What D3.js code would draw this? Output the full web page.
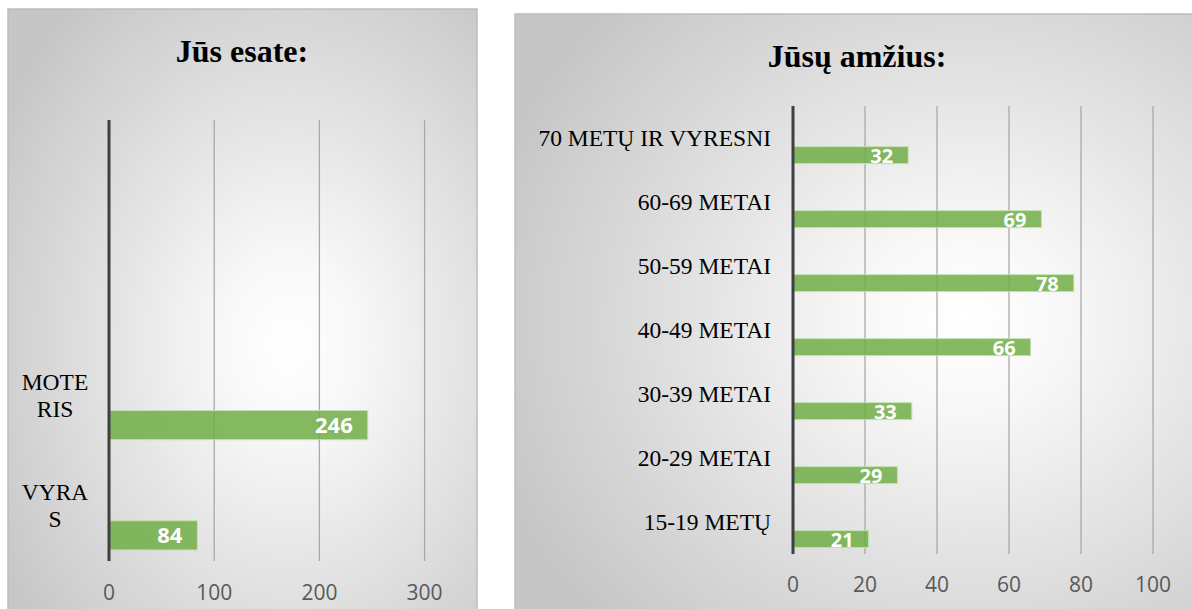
<!DOCTYPE html>
<html>
<head>
<meta charset="utf-8">
<script src="https://cdn.jsdelivr.net/npm/d3@7"></script>
<style>
body { margin:0; background:#ffffff; }
svg { display:block; }
</style>
</head>
<body>
<svg id="chart"></svg>
<script>
// data
var genderCategories = ["MOTERIS", "VYRAS"];
var genderValues = [246, 84];
var genderTicks = [0, 100, 200, 300];

var ageCategories = ["70 METŲ IR VYRESNI", "60-69 METAI", "50-59 METAI", "40-49 METAI", "30-39 METAI", "20-29 METAI", "15-19 METŲ"];
var ageValues = [32, 69, 78, 66, 33, 29, 21];
var ageTicks = [0, 20, 40, 60, 80, 100];

var screen = {width:1192, height:609};
var green = "#70ad47";
var serif = "'Liberation Serif', 'Times New Roman', serif";
var sans = "'Open Sans', sans-serif";

var svg = d3.select("#chart")
    .attr("width", screen.width)
    .attr("height", screen.height);

var defs = svg.append("defs");

var makeGradient = function(id, cx, cy)
{
    var grad = defs.append("radialGradient")
        .attr("id", id)
        .attr("cx", cx)
        .attr("cy", cy)
        .attr("r", "0.72");
    grad.append("stop").attr("offset", "0").attr("stop-color", "#ffffff");
    grad.append("stop").attr("offset", "0.2").attr("stop-color", "#f8f8f8");
    grad.append("stop").attr("offset", "1").attr("stop-color", "#c6c6c6");
};

var drawPanel = function(opts)
{
    makeGradient(opts.id + "Grad", opts.gx, opts.gy);

    var g = svg.append("g").attr("id", opts.id);

    g.append("rect")
        .attr("x", opts.box.x)
        .attr("y", opts.box.y)
        .attr("width", opts.box.w)
        .attr("height", opts.box.h)
        .attr("fill", "url(#" + opts.id + "Grad)")
        .attr("stroke", "#bdbdbd")
        .attr("stroke-width", 1.5);

    g.append("text")
        .attr("x", opts.titleX)
        .attr("y", opts.titleY)
        .attr("text-anchor", "middle")
        .style("font-family", serif)
        .style("font-weight", "bold")
        .style("font-size", "32px")
        .attr("fill", "#000")
        .text(opts.title);

    var x = d3.scaleLinear()
        .domain([0, opts.ticks[opts.ticks.length - 1]])
        .range([opts.plot.left, opts.plot.right]);

    var y = d3.scaleBand()
        .domain(opts.categories)
        .range([opts.plot.top, opts.plot.bottom])
        .paddingInner(0)
        .paddingOuter(opts.outer)
        .align(1);

    // gridlines
    g.append("g")
        .selectAll("line")
        .data(opts.ticks.slice(1))
        .enter()
        .append("line")
        .attr("x1", function(d) { return x(d); })
        .attr("x2", function(d) { return x(d); })
        .attr("y1", opts.plot.top)
        .attr("y2", opts.plot.bottom)
        .attr("stroke", "#a9a9a9")
        .attr("stroke-width", 1.3);

    // tick labels
    g.append("g")
        .selectAll("text")
        .data(opts.ticks)
        .enter()
        .append("text")
        .attr("x", function(d) { return x(d); })
        .attr("y", opts.tickY)
        .attr("text-anchor", "middle")
        .style("font-family", sans)
        .style("font-size", "21px")
        .attr("fill", "#595959")
        .text(function(d) { return d; });

    var rows = opts.categories.map(function(c, i) { return {cat:c, value:opts.values[i]}; });
    var bw = y.bandwidth();

    // bars
    g.append("g")
        .selectAll("rect")
        .data(rows)
        .enter()
        .append("rect")
        .attr("x", x(0))
        .attr("y", function(d) { return y(d.cat) + bw * 0.635; })
        .attr("width", function(d) { return x(d.value) - x(0); })
        .attr("height", bw * 0.265)
        .attr("fill", green)
        .attr("fill-opacity", 0.85)
        .attr("stroke", "#c5e0b4")
        .attr("stroke-width", 1);

    // value labels
    g.append("g")
        .selectAll("text")
        .data(rows)
        .enter()
        .append("text")
        .attr("x", function(d) { return x(d.value) - 15; })
        .attr("y", function(d) { return y(d.cat) + bw * 0.7675 + opts.valueDy; })
        .attr("text-anchor", "end")
        .style("font-family", sans)
        .style("font-weight", "bold")
        .style("font-size", opts.valueSize + "px")
        .attr("fill", "#ffffff")
        .text(function(d) { return d.value; });

    // category labels
    var labels = g.append("g")
        .selectAll("text")
        .data(opts.categories)
        .enter()
        .append("text")
        .style("font-family", serif)
        .style("font-size", "23.5px")
        .attr("fill", "#000")
        .attr("text-anchor", opts.labelAnchor);

    labels.each(function(c)
    {
        var lines = opts.wrap ? c.match(new RegExp(".{1," + opts.wrap + "}", "g")) : [c];
        var cy = y(c) + bw / 2;
        var first = cy + 8 - (lines.length - 1) * 27 / 2;
        d3.select(this)
            .selectAll("tspan")
            .data(lines)
            .enter()
            .append("tspan")
            .attr("x", opts.labelX)
            .attr("y", function(d, i) { return first + i * 27; })
            .text(function(d) { return d; });
    });

    // category axis line
    g.append("line")
        .attr("x1", x(0))
        .attr("x2", x(0))
        .attr("y1", opts.plot.top)
        .attr("y2", opts.plot.bottom)
        .attr("stroke", "#404040")
        .attr("stroke-width", 3);
};

drawPanel({
    id:"gender",
    box:{x:8, y:9, w:469, h:610},
    gx:"0.6", gy:"0.55",
    title:"Jūs esate:",
    titleX:242, titleY:62,
    categories:genderCategories,
    values:genderValues,
    ticks:genderTicks,
    plot:{left:109, right:424.6, top:120, bottom:561},
    outer:1,
    tickY:600,
    valueSize:22,
    valueDy:8,
    labelAnchor:"middle",
    labelX:55,
    wrap:4
});

drawPanel({
    id:"age",
    box:{x:515, y:14, w:690, h:610},
    gx:"0.65", gy:"0.5",
    title:"Jūsų amžius:",
    titleX:857, titleY:67,
    categories:ageCategories,
    values:ageValues,
    ticks:ageTicks,
    plot:{left:793, right:1153, top:106, bottom:554},
    outer:0,
    tickY:592,
    valueSize:20,
    valueDy:8,
    labelAnchor:"end",
    labelX:771,
    wrap:0
});
</script>
</body>
</html>
